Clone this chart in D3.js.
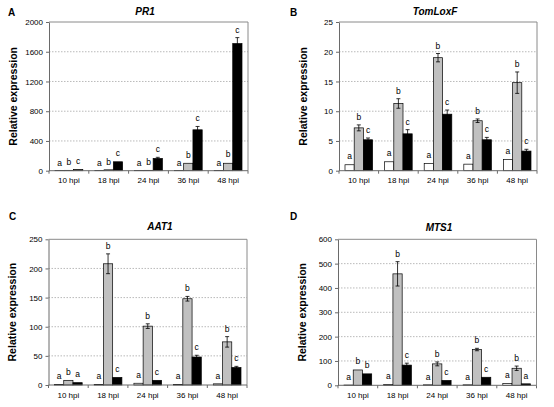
<!DOCTYPE html>
<html>
<head>
<meta charset="utf-8">
<script src="https://cdn.jsdelivr.net/npm/d3@7"></script>
<style>
  body { margin: 0; background: #fff; }
  svg { font-family: "Liberation Sans", Arial, sans-serif; }
</style>
</head>
<body>
<script>
// categories and series
var categories = ['10 hpi', '18 hpi', '24 hpi', '36 hpi', '48 hpi'];
var series = ['control', 'treat1', 'treat2'];
var seriesFill = ['#ffffff', '#c0c0c0', '#000000'];

// PR1
var pr1Values = [[1, 5, 15], [1, 12, 120], [1, 5, 165], [1, 100, 550], [1, 100, 1710]];
var pr1Errors = [[0, 1, 3], [0, 2, 8], [0, 1, 15], [0, 6, 45], [0, 12, 80]];
var pr1Letters = [['a', 'b', 'c'], ['a', 'b', 'c'], ['a', 'b', 'c'], ['a', 'b', 'c'], ['a', 'b', 'c']];
var pr1Ticks = [0, 400, 800, 1200, 1600, 2000];

// TomLoxF
var loxValues = [[1.0, 7.2, 5.2], [1.5, 11.3, 6.2], [1.2, 19.0, 9.5], [1.1, 8.4, 5.2], [1.9, 14.8, 3.3]];
var loxErrors = [[0.1, 0.5, 0.3], [0.1, 0.8, 0.7], [0.1, 0.7, 0.7], [0.1, 0.3, 0.4], [0.1, 1.8, 0.3]];
var loxLetters = [['a', 'b', 'c'], ['a', 'b', 'c'], ['a', 'b', 'c'], ['a', 'b', 'c'], ['a', 'b', 'c']];
var loxTicks = [0, 5, 10, 15, 20, 25];

// AAT1
var aatValues = [[1, 8, 4], [1, 208, 13], [3, 101, 8], [1, 148, 48], [2, 74, 30]];
var aatErrors = [[0.3, 1, 1], [0.3, 17, 1.5], [1, 4, 1], [0.3, 4, 3], [0.5, 9, 2]];
var aatLetters = [['a', 'b', 'a'], ['a', 'b', 'c'], ['a', 'b', 'c'], ['a', 'b', 'c'], ['a', 'b', 'c']];
var aatTicks = [0, 50, 100, 150, 200, 250];

// MTS1
var mtsValues = [[1, 63, 47], [3, 458, 83], [2, 88, 20], [2, 147, 33], [8, 70, 6]];
var mtsErrors = [[0.5, 4, 3], [1, 50, 8], [1, 8, 2], [1, 5, 2], [2, 9, 1]];
var mtsLetters = [['a', 'b', 'b'], ['a', 'b', 'c'], ['a', 'b', 'c'], ['a', 'b', 'c'], ['a', 'b', 'a']];
var mtsTicks = [0, 100, 200, 300, 400, 500, 600];

var svg = d3.select(document.body).append('svg')
    .attr('width', 554).attr('height', 407);

var panels = [
    {tag: 'A', title: 'PR1', values: pr1Values, errors: pr1Errors, letters: pr1Letters, ticks: pr1Ticks,
     box: {l: 49, r: 248, t: 22, b: 170.7}, titleX: 145, titleY: 14.5, tagX: 8, tagY: 15.5},
    {tag: 'B', title: 'TomLoxF', values: loxValues, errors: loxErrors, letters: loxLetters, ticks: loxTicks,
     box: {l: 339, r: 537, t: 22, b: 170.7}, titleX: 435, titleY: 14.5, tagX: 290, tagY: 15.5},
    {tag: 'C', title: 'AAT1', values: aatValues, errors: aatErrors, letters: aatLetters, ticks: aatTicks,
     box: {l: 48.5, r: 247, t: 239.3, b: 385}, titleX: 160, titleY: 229.5, tagX: 9, tagY: 219.5},
    {tag: 'D', title: 'MTS1', values: mtsValues, errors: mtsErrors, letters: mtsLetters, ticks: mtsTicks,
     box: {l: 338, r: 536.5, t: 239.3, b: 385.3}, titleX: 439, titleY: 230.5, tagX: 290, tagY: 219.5}
];

panels.forEach(drawPanel);

function drawPanel(p){
    var g = svg.append('g');
    var box = p.box;
    var ticks = p.ticks;

    var x0 = d3.scaleBand().domain(categories).range([box.l, box.r]);
    var x1 = d3.scaleBand().domain(series).range([6, x0.bandwidth() - 6]);
    var y = d3.scaleLinear().domain([0, ticks[ticks.length - 1]]).range([box.b, box.t]);

    // gridlines
    g.append('g').selectAll('line').data(ticks.slice(1, -1)).enter().append('line')
        .attr('x1', box.l).attr('x2', box.r)
        .attr('y1', function(d){ return y(d); }).attr('y2', function(d){ return y(d); })
        .attr('stroke', '#a8a8a8').attr('stroke-width', 0.8)
        .attr('stroke-dasharray', '1.5,1.5');

    // frame top / right
    g.append('path')
        .attr('d', 'M' + box.l + ',' + box.t + 'H' + box.r + 'V' + box.b)
        .attr('fill', 'none').attr('stroke', '#8a8a8a').attr('stroke-width', 1);

    // bars
    var groups = g.append('g').selectAll('g').data(categories).enter().append('g')
        .attr('transform', function(c){ return 'translate(' + x0(c) + ',0)'; });

    groups.each(function(c, ci){
        var grp = d3.select(this);
        series.forEach(function(s, si){
            var v = p.values[ci][si];
            var e = p.errors[ci][si];
            var bx = x1(s);
            var bw = x1.bandwidth();
            grp.append('rect')
                .attr('x', bx).attr('y', y(v))
                .attr('width', bw).attr('height', y(0) - y(v))
                .attr('fill', seriesFill[si])
                .attr('stroke', '#000').attr('stroke-width', 0.7);
            var cx = bx + bw / 2;
            if (e > 0 && y(v) - y(v + e) > 1) {
                grp.append('path')
                    .attr('d', 'M' + (cx - 2) + ',' + y(v + e) + 'H' + (cx + 2) +
                               'M' + cx + ',' + y(v + e) + 'V' + y(v - e) +
                               'M' + (cx - 2) + ',' + y(v - e) + 'H' + (cx + 2))
                    .attr('fill', 'none').attr('stroke', '#000').attr('stroke-width', 0.8);
            }
            grp.append('text')
                .attr('x', cx).attr('y', y(v + e) - 5)
                .attr('text-anchor', 'middle')
                .attr('font-size', '8.5px')
                .attr('fill', '#000')
                .text(p.letters[ci][si]);
        });
    });

    // y axis
    var yAxis = d3.axisLeft(y).tickValues(ticks).tickFormat(d3.format('d'))
        .tickSize(3).tickSizeOuter(0).tickPadding(3);
    var ya = g.append('g').attr('transform', 'translate(' + box.l + ',0)').call(yAxis);
    ya.select('.domain').attr('stroke', '#6a6a6a');
    ya.selectAll('.tick line').attr('stroke', '#6a6a6a');
    ya.selectAll('text').attr('font-size', '8px').attr('fill', '#000')
        .attr('font-family', '"Liberation Sans", Arial, sans-serif');

    // x axis: line with ticks at band boundaries
    var bounds = categories.map(function(c){ return x0(c); }).concat([x0.range()[1]]);
    g.append('line')
        .attr('x1', box.l).attr('x2', box.r).attr('y1', y(0)).attr('y2', y(0))
        .attr('stroke', '#6a6a6a').attr('stroke-width', 1);
    g.append('g').selectAll('line').data(bounds).enter().append('line')
        .attr('x1', function(d){ return d; }).attr('x2', function(d){ return d; })
        .attr('y1', y(0)).attr('y2', y(0) + 3)
        .attr('stroke', '#6a6a6a');
    g.append('g').selectAll('text').data(categories).enter().append('text')
        .attr('x', function(c){ return x0(c) + x0.bandwidth() / 2; })
        .attr('y', y(0) + 12.5)
        .attr('text-anchor', 'middle')
        .attr('font-size', '8px')
        .text(function(c){ return c; });

    // y title
    g.append('text')
        .attr('transform', 'translate(' + (box.l - 36) + ',' + ((box.t + box.b) / 2) + ') rotate(-90)')
        .attr('text-anchor', 'middle')
        .attr('dy', '0.35em')
        .attr('font-size', '10.5px')
        .attr('font-weight', 'bold')
        .text('Relative expression');

    // gene title
    g.append('text')
        .attr('x', p.titleX).attr('y', p.titleY)
        .attr('text-anchor', 'middle')
        .attr('font-size', '10px')
        .attr('font-weight', 'bold')
        .attr('font-style', 'italic')
        .text(p.title);

    // panel tag
    g.append('text')
        .attr('x', p.tagX).attr('y', p.tagY)
        .attr('font-size', '10px')
        .attr('font-weight', 'bold')
        .text(p.tag);
}
</script>
</body>
</html>
